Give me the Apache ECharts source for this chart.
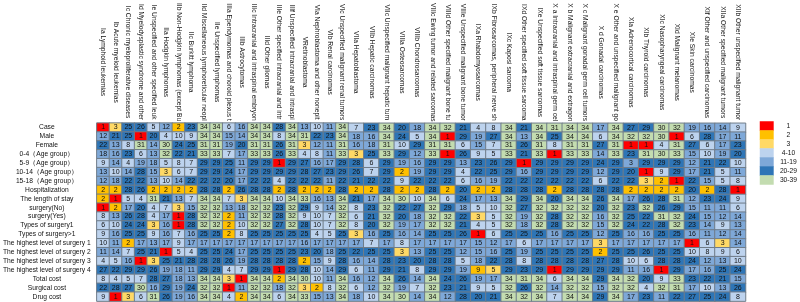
<!DOCTYPE html>
<html><head><meta charset="utf-8">
<style>html,body{margin:0;padding:0;background:#fff}#c{width:800px;height:302px}</style>
<script src="https://cdn.jsdelivr.net/npm/echarts@6/dist/echarts.min.js"></script>
</head><body><div id="c"></div>
<script>
const narrowColumns = ["Ia Lymphoid leukemias","Ib Acute myeloid leukemias","Ic Chronic myeloproliferative diseases","Id Myelodysplastic syndrome and other myeloproliferative diseases","Ie Unspecified and other specified leukemias","IIa Hodgkin lymphomas","IIb Non-Hodgkin lymphomas (except Burkitt lymphoma)","IIc Burkitt lymphoma","IId Miscellaneous lymphoreticular neoplasms","IIe Unspecified lymphomas","IIIa Ependymomas and choroid plexus tumors","IIIb Astrocytomas","IIIc Intracranial and intraspinal embryonal tumors","IIId Other gliomas","IIIe Other specified intracranial and intraspinal neoplasms","IIIf Unspecified intracranial and intraspinal neoplasms","VRetinoblastoma","VIa Nephroblastoma and other nonepithelial renal tumors","VIb Renal carcinomas","VIc Unspecified malignant renal tumors"];
const wideColumns = ["VIIa Hepatoblastoma","VIIb Hepatic carcinomas","VIIc Unspecified malignant hepatic tumors","VIIIa Osteosarcomas","VIIIb Chondrosarcomas","VIIIc Ewing tumor and related sarcomas","VIIId Other specified malignant bone tumors","VIIIe Unspecified malignant bone tumors","IXa Rhabdomyosarcomas","IXb Fibrosarcomas, peripheral nerve sheath tumors","IXc Kaposi sarcoma","IXd Other specified soft tissue sarcomas","IXe Unspecified soft tissue sarcomas","X a Intracranial and intraspinal germ cell tumors","X b Malignant extracranial and extragonadal germ cell tumors","X c Malignant gonadal germ cell tumors","X d Gonadal carcinomas","X e Other and unspecified malignant gonadal tumors","XIa Adrenocortical carcinomas","XIb Thyroid carcinomas","XIc Nasopharyngeal carcinomas","XId Malignant melanomas","XIe Skin carcinomas","XIf Other and unspecified carcinomas","XIIa Other specified malignant tumors","XIIb Other unspecified malignant tumors"];
const rowNames = ["Case","Male","Female","0-4（Age group）","5-9（Age group）","10-14（Age group）","15-18（Age group）","Hospitalization","The length of stay","surgery(No)","surgery(Yes)","Types of surgery1","Types of surgery>1","The highest level of surgery 1","The highest level of surgery 2","The highest level of surgery 3","The highest level of surgery 4","Total cost","Surgical cost","Drug cost"];

const rowCase   = [1,3,25,26,5,12,2,23,34,34,6,16,34,34,28,34,13,10,11,34,7,23,34,20,18,34,32,21,4,8,34,21,34,31,34,34,17,34,27,29,30,32,19,16,14,9];
const rowMale   = [12,21,25,1,20,4,10,9,34,34,15,14,34,34,8,34,31,22,23,34,18,16,34,24,5,34,1,29,19,27,34,13,34,25,34,34,6,34,32,32,30,1,6,28,17,11];
const rowFemale = [22,13,8,31,14,30,24,25,31,31,19,20,31,31,26,31,3,12,11,31,16,18,31,10,29,31,31,6,15,7,31,26,31,8,31,31,27,31,1,1,4,31,27,6,17,23];
const rowAge0   = [18,16,23,6,13,32,22,21,33,33,7,17,33,33,26,33,4,8,11,33,3,25,33,29,12,33,1,26,9,5,33,21,33,1,33,33,14,33,23,31,30,33,15,10,19,20];
const rowAge5   = [9,14,4,19,18,5,8,7,29,29,25,11,29,29,1,29,27,16,17,29,28,6,29,19,16,29,29,13,23,26,29,1,29,29,29,29,24,29,3,29,29,29,12,21,22,10];
const rowAge10  = [13,10,14,28,15,3,6,7,29,29,24,17,29,29,29,29,28,27,23,29,26,7,29,2,19,29,29,4,22,25,29,16,29,29,29,29,12,29,20,1,9,29,17,21,5,11];
const rowAge15  = [12,18,22,22,13,10,14,22,22,22,20,17,22,22,4,22,22,22,11,22,21,22,22,9,22,22,22,6,16,19,22,22,22,22,22,22,6,22,22,3,2,1,22,15,5,8];
const rowHosp   = [2,2,28,26,2,2,2,2,28,28,2,26,28,28,2,28,2,2,2,28,2,2,28,2,2,28,2,20,2,2,28,28,28,2,28,28,28,28,2,2,2,2,20,2,28,1];
const rowStay   = [2,1,5,4,31,21,13,7,34,34,7,3,34,34,10,34,33,16,13,34,21,17,34,30,10,34,6,24,17,13,34,29,34,20,34,34,26,34,17,26,28,31,12,23,24,9];
const rowSurgNo = [1,2,17,20,4,7,3,15,32,32,13,18,32,32,23,32,29,9,14,32,8,23,32,22,27,32,29,18,5,10,32,27,32,32,32,32,20,32,23,32,26,29,15,11,11,6];
const rowSurgYes= [8,13,26,28,4,17,1,28,32,32,2,11,32,32,28,32,9,10,7,32,6,21,32,20,18,32,32,22,3,5,32,19,32,28,32,32,16,32,25,22,31,32,24,15,12,14];
const rowTypes1 = [6,10,24,24,3,16,1,28,32,32,2,10,32,32,27,32,28,10,7,32,8,20,32,19,17,32,32,21,4,5,32,18,32,28,32,32,15,32,24,22,28,32,23,14,9,13];
const rowTypes2 = [9,16,25,25,9,16,7,16,25,25,2,8,25,25,25,25,25,4,5,25,3,16,25,16,14,25,25,26,1,6,25,25,25,16,25,25,12,25,16,16,25,25,16,11,12,14];
const rowLevel1 = [10,11,2,17,13,17,9,17,17,17,17,17,17,17,17,17,16,17,17,17,17,7,17,8,17,17,17,17,15,12,17,6,17,17,17,17,3,17,17,17,17,17,1,6,3,14];
const rowLevel2 = [11,14,7,25,21,1,5,4,25,25,24,17,25,25,25,25,23,20,18,25,22,25,25,3,13,25,25,12,15,16,25,19,25,25,25,25,2,25,25,26,25,25,10,8,9,6];
const rowLevel3 = [4,5,16,1,3,25,21,28,28,28,26,19,28,28,28,28,2,15,9,28,16,14,28,23,20,28,28,5,18,22,28,8,28,28,28,28,27,28,10,6,28,28,24,12,13,10];
const rowLevel4 = [27,22,29,29,26,19,18,11,29,29,4,7,29,29,1,29,28,10,14,29,6,11,29,21,8,29,29,19,9,5,29,23,29,1,29,29,29,29,11,16,1,29,17,16,25,24];
const rowTotal  = [8,4,5,7,28,27,18,13,34,34,3,1,34,34,2,34,30,10,11,34,16,12,34,26,14,34,24,26,19,17,34,31,34,6,34,34,29,34,32,20,9,33,23,22,21,15];
const rowSurgical=[22,28,27,30,16,29,19,24,32,32,1,11,32,32,18,32,3,2,8,32,6,12,32,19,7,32,23,21,9,5,32,26,32,14,32,32,15,32,32,4,32,31,17,10,13,26];
const rowDrug   = [9,1,3,6,31,26,19,16,34,34,4,2,34,34,6,34,33,15,13,34,18,10,34,30,14,34,12,28,20,21,34,32,34,7,34,34,29,34,17,23,11,22,27,25,24,8];

const legendLabels = ["1","2","3","4-10","11-19","20-29","30-39"];
const legendValues = [1,2,3,4,11,20,30];
const legendColors = ["#FF0000","#FFC000","#FFD966","#BDD3EE","#7EA8D8","#2E75B6","#C3DCB0"];
// Three cells are shaded in the reference differently from their printed number.
const shadedAs = [[4,38,11],[16,28,2],[16,29,3]];

const allRows = [rowCase,rowMale,rowFemale,rowAge0,rowAge5,rowAge10,rowAge15,rowHosp,rowStay,rowSurgNo,rowSurgYes,rowTypes1,rowTypes2,rowLevel1,rowLevel2,rowLevel3,rowLevel4,rowTotal,rowSurgical,rowDrug];
const nNarrow = narrowColumns.length;
function colorOf(v){
  if(v<=3) return legendColors[v-1];
  if(v<=10) return legendColors[3];
  if(v<=19) return legendColors[4];
  if(v<=29) return legendColors[5];
  return legendColors[6];
}
function cells(from,to){
  const out=[];
  allRows.forEach((row,r)=>{
    for(let c=from;c<to;c++){
      const o=shadedAs.find(s=>s[0]===r&&s[1]===c);
      const item={value:[c-from,r,row[c]],itemStyle:{color:colorOf(o?o[2]:row[c])}};
      out.push(item);
    }
  });
  return out;
}
const fam='"Liberation Sans",Arial,sans-serif';
const cellStyle={borderColor:'#6F7C89',borderWidth:1};
const cellLabel={show:true,fontFamily:fam,fontSize:7,color:'#111',formatter:p=>p.value[2]};
function xAxisOf(cats,gridIndex){
  return {type:'category',data:cats,gridIndex,position:'top',
    axisLine:{show:false},axisTick:{show:false},splitLine:{show:false},
    axisLabel:{interval:0,rotate:90,margin:61,align:'center',verticalAlign:'middle',
      fontFamily:fam,fontSize:6.7,color:'#111',width:120,overflow:'truncate',ellipsis:''}};
}
const gridTop=121.5,gridH=179.6,gridLeft=95,gridMid=348.5,gridRight=745.5;
const option={
  animation:false,backgroundColor:'#fff',
  grid:[
    {left:gridLeft,top:gridTop,width:gridMid-gridLeft,height:gridH},
    {left:gridMid,top:gridTop,width:gridRight-gridMid,height:gridH},
    {left:760,top:gridTop,width:16,height:63}
  ],
  xAxis:[xAxisOf(narrowColumns,0),xAxisOf(wideColumns,1),
    {type:'category',data:['k'],gridIndex:2,show:false}],
  yAxis:[
    {type:'category',data:rowNames,gridIndex:0,inverse:true,axisLine:{show:false},axisTick:{show:false},
     axisLabel:{interval:0,margin:50,align:'center',fontFamily:fam,fontSize:6.7,color:'#111'}},
    {type:'category',data:rowNames,gridIndex:1,inverse:true,show:false},
    {type:'category',data:legendLabels,gridIndex:2,inverse:true,position:'right',axisLine:{show:false},axisTick:{show:false},
     axisLabel:{interval:0,margin:15,align:'center',fontFamily:fam,fontSize:6.7,color:'#111'}}
  ],
  series:[
    {type:'heatmap',xAxisIndex:0,yAxisIndex:0,data:cells(0,nNarrow),itemStyle:cellStyle,label:cellLabel},
    {type:'heatmap',xAxisIndex:1,yAxisIndex:1,data:cells(nNarrow,allRows[0].length),itemStyle:cellStyle,label:cellLabel},
    {type:'heatmap',xAxisIndex:2,yAxisIndex:2,
     data:legendLabels.map((l,i)=>({value:[0,i,legendValues[i]],itemStyle:{color:colorOf(legendValues[i])}})),
     label:{show:false},itemStyle:{borderWidth:0}}
  ]
};
echarts.init(document.getElementById('c'),null,{renderer:'canvas'}).setOption(option);
</script></body></html>
